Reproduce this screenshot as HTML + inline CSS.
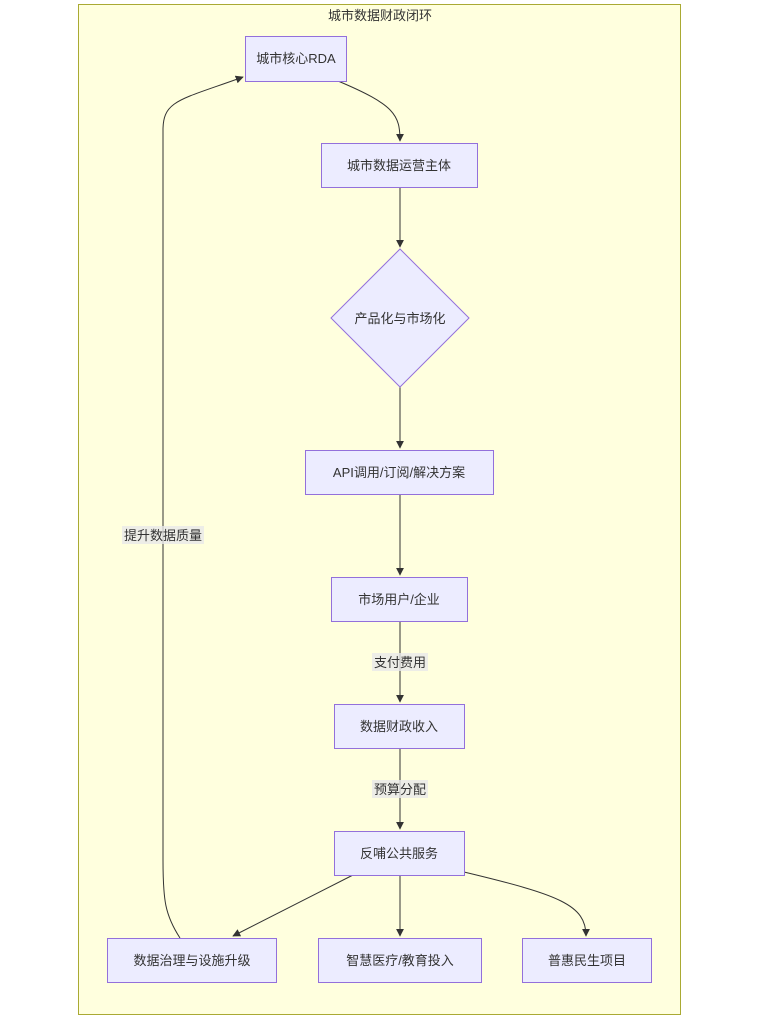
<!DOCTYPE html>
<html><head><meta charset="utf-8"><style>
html,body{margin:0;padding:0;background:#fff;}
svg{display:block;}
text{font-family:"Liberation Sans","Noto Sans CJK SC",sans-serif;font-size:13px;fill:#333;}
.n{fill:#ECECFF;stroke:#9370DB;stroke-width:1;}
.e{fill:none;stroke:#333;stroke-width:1;}
.lb{fill:#e8e8e8;opacity:0.8;}
</style></head><body>
<svg width="760" height="1022" viewBox="0 0 760 1022" xmlns="http://www.w3.org/2000/svg">
<defs><marker id="a" viewBox="0 0 10 10" refX="9" refY="5" markerWidth="8" markerHeight="8" orient="auto"><path d="M0,0L10,5L0,10z" fill="#333"/></marker></defs>
<rect x="78.5" y="4.5" width="602" height="1010" fill="#ffffde" stroke="#aaaa33"/>
<text x="380" y="20" text-anchor="middle">城市数据财政闭环</text>

<path class="e" d="M338,81 C395,105 400,115 400,141" marker-end="url(#a)"/>
<path class="e" d="M400,187 L400,247" marker-end="url(#a)"/>
<path class="e" d="M400,387 L400,448" marker-end="url(#a)"/>
<path class="e" d="M400,494 L400,575" marker-end="url(#a)"/>
<path class="e" d="M400,621 L400,702" marker-end="url(#a)"/>
<path class="e" d="M400,748 L400,829" marker-end="url(#a)"/>
<path class="e" d="M353,875 L233,936" marker-end="url(#a)"/>
<path class="e" d="M400,875 L400,936" marker-end="url(#a)"/>
<path class="e" d="M464,872 C560,895 586,905 586,936" marker-end="url(#a)"/>
<path class="e" d="M180,938 C165,915 163,900 163,860 L163,130 C163,100 180,100 243,77" marker-end="url(#a)"/>

<rect class="lb" x="372" y="653" width="56" height="18"/><text x="400" y="667" text-anchor="middle">支付费用</text>
<rect class="lb" x="372" y="780" width="56" height="18"/><text x="400" y="794" text-anchor="middle">预算分配</text>
<rect class="lb" x="122" y="526" width="82" height="18"/><text x="163" y="540" text-anchor="middle">提升数据质量</text>

<rect class="n" x="245.5" y="36.5" width="101" height="45"/><text x="296" y="63" text-anchor="middle">城市核心RDA</text>
<rect class="n" x="321.5" y="143.5" width="156" height="44"/><text x="399" y="170" text-anchor="middle">城市数据运营主体</text>
<polygon class="n" points="400,249 469,318 400,387 331,318"/><text x="400" y="323" text-anchor="middle">产品化与市场化</text>
<rect class="n" x="305.5" y="450.5" width="188" height="44"/><text x="399" y="477" text-anchor="middle">API调用/订阅/解决方案</text>
<rect class="n" x="331.5" y="577.5" width="136" height="44"/><text x="399" y="604" text-anchor="middle">市场用户/企业</text>
<rect class="n" x="334.5" y="704.5" width="130" height="44"/><text x="399" y="731" text-anchor="middle">数据财政收入</text>
<rect class="n" x="334.5" y="831.5" width="130" height="44"/><text x="399" y="858" text-anchor="middle">反哺公共服务</text>
<rect class="n" x="107.5" y="938.5" width="169" height="44"/><text x="192" y="965" text-anchor="middle">数据治理与设施升级</text>
<rect class="n" x="318.5" y="938.5" width="163" height="44"/><text x="400" y="965" text-anchor="middle">智慧医疗/教育投入</text>
<rect class="n" x="522.5" y="938.5" width="129" height="44"/><text x="587" y="965" text-anchor="middle">普惠民生项目</text>
</svg>
</body></html>
